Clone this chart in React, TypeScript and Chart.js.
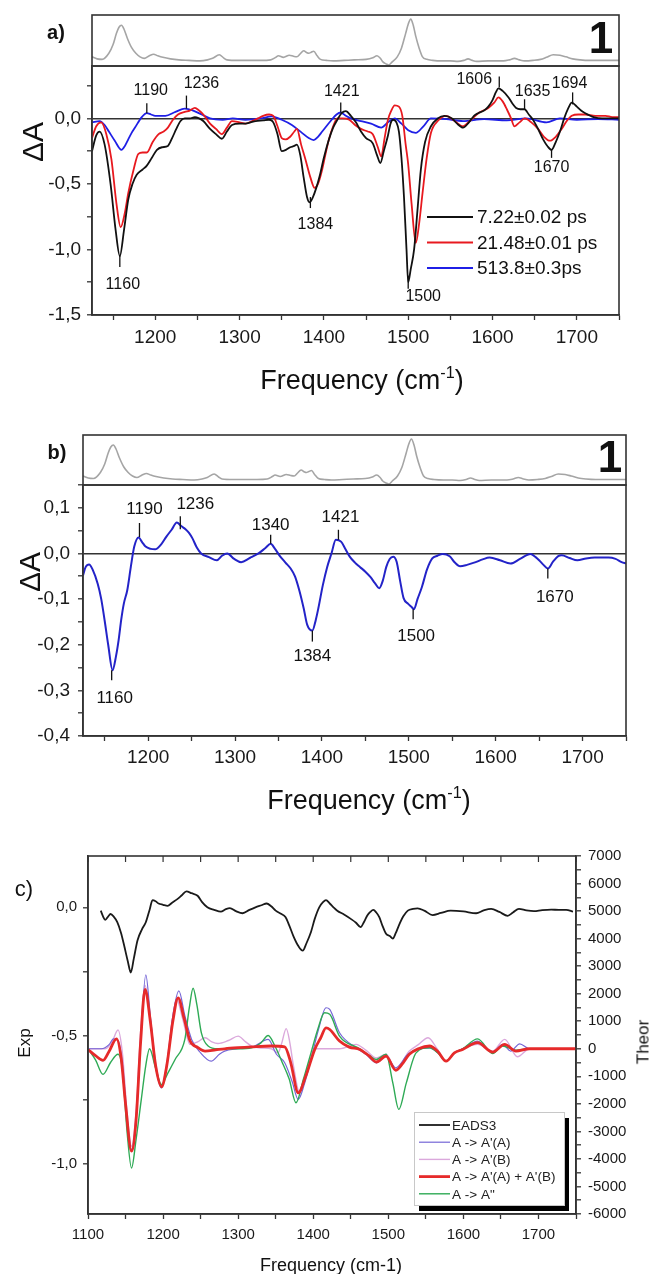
import React, { useEffect, useRef } from 'react';
import { Chart, registerables } from 'chart.js';
Chart.register(...registerables);

const FONT = "'Liberation Sans', Arial, sans-serif";

// ---------- DATA ----------
// reference (ground-state) spectrum shown in the small top boxes, arbitrary units
const refSpectrum: [number, number][] = [
  [1125,0.18],[1131,0.14],[1137,0.13],[1145,0.25],[1150,0.42],[1154,0.64],[1157,0.76],[1160,0.80],[1163,0.72],[1167,0.54],[1172,0.36],[1177,0.25],[1182,0.18],[1187,0.15],[1193,0.2],[1198,0.23],[1203,0.2],[1209,0.17],[1218,0.14],[1228,0.12],[1240,0.11],[1253,0.10],[1262,0.12],[1268,0.15],[1276,0.22],[1281,0.16],[1285,0.12],[1298,0.11],[1312,0.11],[1325,0.11],[1337,0.12],[1343,0.17],[1346,0.2],[1352,0.17],[1359,0.21],[1364,0.19],[1368,0.18],[1372,0.24],[1376,0.30],[1380,0.26],[1382,0.25],[1385,0.27],[1388,0.29],[1392,0.2],[1396,0.13],[1403,0.11],[1411,0.10],[1424,0.11],[1436,0.12],[1450,0.13],[1458,0.16],[1463,0.20],[1467,0.15],[1470,0.08],[1474,0.04],[1477,0.02],[1481,0.08],[1487,0.18],[1492,0.35],[1497,0.64],[1500,0.82],[1503,0.92],[1506,0.80],[1509,0.58],[1513,0.35],[1517,0.18],[1522,0.13],[1529,0.11],[1540,0.1],[1550,0.1],[1559,0.09],[1566,0.11],[1571,0.14],[1576,0.11],[1581,0.09],[1595,0.1],[1606,0.1],[1613,0.10],[1620,0.12],[1626,0.15],[1632,0.12],[1638,0.10],[1648,0.11],[1657,0.13],[1664,0.17],[1672,0.22],[1680,0.21],[1687,0.18],[1695,0.14],[1704,0.12],[1715,0.11],[1726,0.11],[1738,0.11],[1750,0.11]
];

// panel a: EADS (black 7.22 ps, red 21.48 ps, blue 513.8 ps)
const eadsFast: [number, number][] = [
  [1125,-0.25],[1130,-0.13],[1134,-0.10],[1140,-0.2],[1147,-0.5],[1153,-0.85],[1158,-1.05],[1163,-0.85],[1168,-0.62],[1173,-0.5],[1178,-0.43],[1185,-0.39],[1190,-0.36],[1196,-0.3],[1202,-0.24],[1208,-0.22],[1215,-0.21],[1220,-0.15],[1225,-0.08],[1230,-0.02],[1235,0.0],[1241,0.0],[1247,0.01],[1252,0.0],[1257,-0.02],[1265,-0.08],[1272,-0.12],[1279,-0.155],[1285,-0.1],[1291,-0.05],[1300,-0.04],[1307,-0.04],[1313,-0.03],[1319,-0.02],[1328,-0.015],[1335,-0.01],[1340,-0.03],[1345,-0.12],[1350,-0.25],[1355,-0.24],[1360,-0.22],[1365,-0.21],[1368,-0.2],[1372,-0.28],[1376,-0.45],[1380,-0.6],[1383,-0.64],[1387,-0.6],[1391,-0.53],[1395,-0.44],[1400,-0.3],[1406,-0.16],[1411,-0.07],[1416,-0.01],[1421,0.04],[1426,0.055],[1432,0.02],[1438,-0.03],[1444,-0.1],[1450,-0.15],[1458,-0.19],[1463,-0.28],[1467,-0.34],[1471,-0.25],[1476,-0.13],[1479,-0.04],[1482,-0.01],[1486,-0.03],[1489,-0.1],[1492,-0.3],[1495,-0.6],[1498,-1.0],[1500,-1.25],[1503,-1.15],[1507,-1.0],[1511,-0.7],[1515,-0.39],[1520,-0.18],[1527,-0.06],[1535,0.0],[1543,0.02],[1552,0.0],[1558,-0.04],[1565,-0.07],[1572,-0.03],[1578,0.02],[1583,0.04],[1590,0.06],[1595,0.09],[1600,0.14],[1604,0.2],[1607,0.23],[1612,0.21],[1619,0.16],[1624,0.11],[1628,0.08],[1633,0.07],[1638,0.07],[1643,0.03],[1648,-0.01],[1654,-0.08],[1660,-0.16],[1665,-0.21],[1670,-0.24],[1675,-0.18],[1680,-0.1],[1685,0.0],[1690,0.08],[1694,0.12],[1700,0.09],[1705,0.06],[1710,0.04],[1720,0.01],[1730,0.0],[1740,0.0],[1750,0.0]
];
const eadsMid: [number, number][] = [
  [1125,-0.15],[1130,-0.06],[1136,-0.03],[1142,-0.12],[1148,-0.31],[1154,-0.65],[1159,-0.83],[1164,-0.72],[1168,-0.57],[1174,-0.4],[1180,-0.27],[1185,-0.26],[1190,-0.26],[1197,-0.18],[1204,-0.12],[1210,-0.1],[1215,-0.07],[1221,-0.01],[1227,0.03],[1235,0.05],[1241,0.06],[1247,0.08],[1252,0.06],[1257,0.03],[1265,-0.04],[1272,-0.08],[1279,-0.12],[1285,-0.07],[1291,-0.02],[1300,-0.03],[1307,-0.04],[1315,-0.02],[1322,0.0],[1328,0.02],[1335,0.03],[1340,0.02],[1345,-0.06],[1350,-0.15],[1355,-0.16],[1360,-0.14],[1365,-0.1],[1368,-0.08],[1373,-0.2],[1378,-0.31],[1384,-0.45],[1389,-0.53],[1393,-0.5],[1398,-0.39],[1402,-0.27],[1406,-0.16],[1411,-0.06],[1416,0.0],[1422,0.0],[1430,-0.01],[1437,-0.05],[1444,-0.08],[1452,-0.1],[1458,-0.12],[1464,-0.22],[1468,-0.29],[1472,-0.15],[1476,-0.01],[1480,0.06],[1484,0.1],[1489,0.09],[1493,0.02],[1497,-0.2],[1500,-0.35],[1504,-0.65],[1509,-0.95],[1513,-0.8],[1517,-0.57],[1522,-0.3],[1527,-0.11],[1535,-0.02],[1545,0.02],[1555,-0.02],[1565,-0.06],[1573,-0.02],[1583,0.04],[1595,0.08],[1602,0.12],[1607,0.16],[1612,0.13],[1617,0.07],[1622,0.0],[1626,-0.06],[1632,-0.03],[1638,0.0],[1646,-0.03],[1654,-0.08],[1661,-0.14],[1668,-0.17],[1675,-0.14],[1682,-0.08],[1688,-0.02],[1694,0.02],[1702,0.03],[1710,0.03],[1722,0.02],[1734,0.02],[1742,0.01],[1750,0.01]
];
const eadsSlow: [number, number][] = [
  [1125,-0.03],[1134,-0.02],[1140,-0.05],[1145,-0.1],[1152,-0.17],[1160,-0.24],[1164,-0.21],[1168,-0.16],[1172,-0.11],[1176,-0.07],[1184,0.01],[1190,0.04],[1195,0.03],[1200,0.02],[1212,0.02],[1224,0.05],[1235,0.075],[1245,0.06],[1255,0.03],[1265,0.0],[1280,-0.01],[1292,0.0],[1307,-0.01],[1325,0.0],[1338,0.015],[1350,-0.01],[1362,-0.05],[1374,-0.11],[1382,-0.15],[1388,-0.165],[1393,-0.14],[1398,-0.1],[1408,-0.02],[1415,0.03],[1420,0.045],[1426,0.02],[1432,0.0],[1444,-0.02],[1456,-0.04],[1468,-0.07],[1476,-0.03],[1484,0.0],[1492,-0.04],[1500,-0.09],[1509,-0.11],[1518,-0.06],[1527,0.0],[1545,-0.005],[1565,-0.02],[1590,-0.005],[1617,-0.015],[1640,0.0],[1664,-0.03],[1680,0.0],[1700,-0.01],[1725,-0.005],[1750,-0.01]
];

// panel b: long-lived EADS
const eadsB: [number, number][] = [
  [1125,-0.048],[1128,-0.03],[1132,-0.024],[1136,-0.035],[1142,-0.067],[1146,-0.1],[1150,-0.148],[1154,-0.2],[1159,-0.256],[1163,-0.225],[1166,-0.19],[1169,-0.145],[1172,-0.11],[1176,-0.08],[1180,-0.03],[1184,0.015],[1189,0.035],[1193,0.025],[1197,0.015],[1203,0.01],[1208,0.009],[1215,0.02],[1221,0.037],[1227,0.052],[1233,0.068],[1238,0.06],[1243,0.053],[1247,0.045],[1251,0.033],[1256,0.013],[1261,0.0],[1270,-0.008],[1279,-0.015],[1285,-0.005],[1291,0.0],[1299,-0.012],[1307,-0.019],[1317,-0.01],[1327,0.0],[1335,0.012],[1341,0.021],[1346,0.01],[1351,-0.004],[1358,-0.02],[1364,-0.033],[1369,-0.05],[1374,-0.081],[1379,-0.12],[1383,-0.156],[1389,-0.169],[1393,-0.145],[1396,-0.119],[1401,-0.07],[1406,-0.03],[1411,0.0],[1416,0.03],[1422,0.026],[1427,0.01],[1432,-0.007],[1438,-0.02],[1444,-0.03],[1450,-0.04],[1456,-0.052],[1461,-0.065],[1466,-0.076],[1470,-0.06],[1474,-0.03],[1478,-0.012],[1482,-0.007],[1486,-0.018],[1490,-0.06],[1494,-0.098],[1499,-0.11],[1503,-0.117],[1506,-0.122],[1510,-0.1],[1515,-0.074],[1521,-0.035],[1527,-0.011],[1533,-0.005],[1539,-0.001],[1547,-0.006],[1553,-0.02],[1559,-0.028],[1567,-0.025],[1577,-0.019],[1585,-0.013],[1593,-0.009],[1605,-0.015],[1617,-0.022],[1628,-0.012],[1640,-0.001],[1646,-0.008],[1650,-0.015],[1655,-0.025],[1660,-0.033],[1666,-0.018],[1672,-0.006],[1676,-0.004],[1685,-0.01],[1694,-0.015],[1704,-0.011],[1714,-0.009],[1722,-0.009],[1730,-0.009],[1738,-0.012],[1745,-0.019],[1750,-0.022]
];

// panel c: experimental EADS3 (left axis) and theoretical difference spectra (right axis)
const eads3Exp: [number, number][] = [
  [1117,-0.013],[1120,-0.035],[1123,-0.049],[1127,-0.035],[1130,-0.026],[1134,-0.035],[1139,-0.058],[1144,-0.1],[1148,-0.147],[1153,-0.21],[1157,-0.254],[1161,-0.2],[1166,-0.128],[1172,-0.085],[1177,-0.058],[1182,-0.01],[1186,0.028],[1190,0.024],[1194,0.015],[1200,0.01],[1206,0.006],[1212,0.018],[1219,0.032],[1225,0.047],[1231,0.062],[1238,0.055],[1246,0.045],[1252,0.02],[1259,0.0],[1268,-0.01],[1277,-0.017],[1283,-0.008],[1289,-0.003],[1297,-0.015],[1306,-0.023],[1315,-0.01],[1323,0.0],[1331,0.008],[1338,0.015],[1344,0.004],[1350,-0.013],[1357,-0.025],[1363,-0.038],[1368,-0.07],[1374,-0.115],[1380,-0.15],[1386,-0.169],[1391,-0.14],[1397,-0.096],[1402,-0.045],[1408,0.0],[1413,0.02],[1417,0.028],[1422,0.015],[1427,0.0],[1432,-0.013],[1441,-0.028],[1450,-0.045],[1457,-0.06],[1463,-0.077],[1468,-0.055],[1472,-0.032],[1476,-0.018],[1480,-0.01],[1484,-0.02],[1488,-0.038],[1492,-0.07],[1497,-0.103],[1502,-0.112],[1506,-0.122],[1510,-0.1],[1514,-0.071],[1520,-0.035],[1526,-0.013],[1533,-0.006],[1539,-0.004],[1548,-0.013],[1559,-0.03],[1570,-0.022],[1583,-0.013],[1600,-0.016],[1617,-0.023],[1627,-0.012],[1637,-0.006],[1648,-0.018],[1659,-0.033],[1666,-0.02],[1674,-0.006],[1684,-0.012],[1694,-0.015],[1705,-0.011],[1717,-0.009],[1727,-0.01],[1737,-0.01],[1746,-0.017]
];
const theorAA: [number, number][] = [
  [1100,0],[1118,0],[1128,150],[1134,360],[1140,300],[1146,-600],[1152,-2500],[1158,-3660],[1164,-2500],[1170,300],[1177,2680],[1183,1200],[1190,-600],[1198,-1420],[1205,-600],[1213,1200],[1221,2100],[1229,1200],[1238,340],[1250,-150],[1264,-450],[1275,-200],[1282,-85],[1300,0],[1320,80],[1340,340],[1351,-200],[1362,-510],[1372,-1200],[1380,-1840],[1388,-1300],[1397,-390],[1407,700],[1417,1490],[1422,1430],[1435,580],[1457,36],[1470,-200],[1484,-510],[1497,-270],[1510,-690],[1526,-200],[1541,0],[1555,36],[1566,-150],[1577,-450],[1588,-150],[1599,0],[1619,280],[1639,-150],[1652,160],[1663,-85],[1675,180],[1688,0],[1750,0]
];
const theorAB: [number, number][] = [
  [1100,0],[1123,0],[1132,250],[1140,680],[1146,-200],[1152,-2300],[1158,-3540],[1164,-2300],[1170,600],[1176,2300],[1183,1100],[1190,-500],[1198,-1360],[1205,-500],[1212,1000],[1218,1800],[1226,1100],[1236,160],[1246,250],[1256,400],[1265,250],[1273,190],[1287,300],[1300,460],[1310,250],[1318,100],[1330,30],[1344,0],[1353,-150],[1358,200],[1364,730],[1369,200],[1373,-510],[1382,-1600],[1392,-700],[1402,0],[1435,0],[1457,160],[1470,-50],[1484,-330],[1497,-200],[1510,-750],[1528,-85],[1540,150],[1553,400],[1565,0],[1577,-450],[1588,-150],[1599,0],[1619,160],[1639,-85],[1655,340],[1672,-290],[1688,0],[1750,0]
];
const theorSum: [number, number][] = [
  [1100,-25],[1110,-250],[1120,-420],[1128,-100],[1138,360],[1144,-300],[1150,-2000],[1158,-3720],[1164,-2600],[1170,200],[1176,2160],[1183,1000],[1190,-600],[1198,-1380],[1205,-600],[1213,1000],[1220,1850],[1228,1100],[1236,280],[1246,50],[1256,-85],[1270,-40],[1282,0],[1300,40],[1318,70],[1344,100],[1362,70],[1370,-500],[1380,-1600],[1390,-1000],[1402,-25],[1410,400],[1417,760],[1422,700],[1435,280],[1448,60],[1462,-25],[1474,-250],[1484,-480],[1497,-270],[1510,-780],[1520,-500],[1528,-200],[1540,0],[1555,100],[1566,-100],[1577,-450],[1588,-150],[1599,-25],[1619,220],[1639,-120],[1655,160],[1670,-85],[1688,0],[1750,0]
];
const theorA2: [number, number][] = [
  [1100,0],[1110,-400],[1120,-930],[1130,-500],[1140,-200],[1146,-800],[1152,-3000],[1158,-4330],[1164,-3300],[1171,-1840],[1177,-600],[1182,0],[1190,-700],[1198,-1300],[1206,-900],[1216,-390],[1229,340],[1235,1500],[1240,2200],[1245,1600],[1251,580],[1260,100],[1273,0],[1300,0],[1318,36],[1330,200],[1340,480],[1349,100],[1358,-450],[1368,-1100],[1377,-1960],[1387,-1100],[1397,-150],[1406,700],[1415,1310],[1422,1250],[1435,460],[1462,0],[1475,-250],[1484,-390],[1497,-200],[1506,-1240],[1514,-2200],[1524,-1240],[1537,-150],[1555,36],[1566,-150],[1577,-450],[1588,-150],[1599,0],[1619,360],[1639,-170],[1652,100],[1670,-50],[1688,0],[1750,0]
];

const legendA = ['7.22\u00B10.02 ps', '21.48\u00B10.01 ps', '513.8\u00B10.3ps'];
const legendC = ['EADS3', "A -> A'(A)", "A -> A'(B)", "A -> A'(A) + A'(B)", 'A -> A"'];

// peak annotations: [frequency, value where the marker starts, label]
const peaksA: [number, number, string][] = [
  [1158, -1.05, '1160'], [1190, 0.04, '1190'], [1237, 0.075, '1236'], [1384, -0.6, '1384'],
  [1420, 0.045, '1421'], [1500, -1.2, '1500'], [1608, 0.236, '1606'], [1638, 0.07, '1635'],
  [1695, 0.107, '1694'], [1670, -0.24, '1670']
];
const peaksB: [number, number, string][] = [
  [1158, -0.256, '1160'], [1190, 0.036, '1190'], [1237, 0.053, '1236'], [1341, 0.021, '1340'],
  [1419, 0.03, '1421'], [1389, -0.169, '1384'], [1505, -0.122, '1500'], [1660, -0.033, '1670']
];

// ---------- styling for annotations (direction, tick length, text gap, text x-shift) ----------
type PStyle = { dir: 'up' | 'down'; len: number; gap: number; dx: number };
const peakStyleA: PStyle[] = [
  { dir: 'down', len: 11, gap: 18, dx: 3 }, { dir: 'up', len: 10, gap: 13, dx: 4 },
  { dir: 'up', len: 13, gap: 12, dx: 15 }, { dir: 'down', len: 11, gap: 17, dx: 5 },
  { dir: 'up', len: 10, gap: 11, dx: 1 }, { dir: 'down', len: 13, gap: 8, dx: 15 },
  { dir: 'up', len: 11, gap: -3, dx: -25 }, { dir: 'up', len: 10, gap: 8, dx: 8 },
  { dir: 'up', len: 12, gap: 9, dx: -3 }, { dir: 'down', len: 8, gap: 10, dx: 0 }
];
const peakStyleB: PStyle[] = [
  { dir: 'down', len: 10, gap: 18, dx: 3 }, { dir: 'up', len: 14, gap: 14, dx: 5 },
  { dir: 'up', len: 13, gap: 12, dx: 15 }, { dir: 'up', len: 9, gap: 10, dx: 0 },
  { dir: 'up', len: 10, gap: 12, dx: 2 }, { dir: 'down', len: 11, gap: 15, dx: 0 },
  { dir: 'down', len: 10, gap: 17, dx: 3 }, { dir: 'down', len: 10, gap: 19, dx: 7 }
];

// ---------- helpers ----------
const fmtComma = (v: number) => {
  const r = Math.round(v * 10) / 10;
  return (r === 0 ? 0 : r).toFixed(1).replace('.', ',');
};
const isMult = (v: number, m: number) => {
  const q = v / m;
  return Math.abs(q - Math.round(q)) < 1e-6;
};
const pts = (arr: [number, number][]) => arr.map(([x, y]) => ({ x, y }));
const lineDs = (arr: [number, number][], color: string, width: number, extra: any = {}) => ({
  data: pts(arr), borderColor: color, backgroundColor: color, borderWidth: width,
  pointRadius: 0, fill: false, cubicInterpolationMode: 'monotone', ...extra
});
const zeroPad = (s: any) => {
  s.paddingTop = 0; s.paddingBottom = 0; s.paddingLeft = 0; s.paddingRight = 0;
};

const framePlugin = {
  id: 'frame',
  afterDatasetsDraw(chart: any) {
    const { ctx, chartArea: a } = chart;
    ctx.save();
    ctx.strokeStyle = '#333';
    ctx.lineWidth = 1.6;
    ctx.strokeRect(a.left, a.top, a.right - a.left, a.bottom - a.top);
    ctx.restore();
  }
};

const topTicksPlugin = {
  id: 'topTicks',
  afterDraw(chart: any) {
    const { ctx, chartArea: a, scales } = chart;
    const x = scales.x;
    ctx.save();
    ctx.strokeStyle = '#333';
    ctx.lineWidth = 1.2;
    x.ticks.forEach((t: any) => {
      const px = x.getPixelForValue(t.value);
      ctx.beginPath();
      ctx.moveTo(px, a.top);
      ctx.lineTo(px, a.top + 6);
      ctx.stroke();
    });
    ctx.restore();
  }
};

const makePeaksPlugin = (items: [number, number, string][], styles: PStyle[], fontSize: number) => ({
  id: 'peaks',
  afterDatasetsDraw(chart: any) {
    const { ctx, scales } = chart;
    const x = scales.x, y = scales.y;
    ctx.save();
    ctx.strokeStyle = '#111';
    ctx.fillStyle = '#111';
    ctx.lineWidth = 1.3;
    ctx.font = `${fontSize}px ${FONT}`;
    ctx.textAlign = 'center';
    ctx.textBaseline = 'middle';
    items.forEach(([f, v, label], i) => {
      const st = styles[i];
      const px = x.getPixelForValue(f);
      const py = y.getPixelForValue(v);
      const s = st.dir === 'up' ? -1 : 1;
      const ey = py + s * st.len;
      ctx.beginPath();
      ctx.moveTo(px, py);
      ctx.lineTo(px, ey);
      ctx.stroke();
      ctx.fillText(label, px + st.dx, ey + s * st.gap);
    });
    ctx.restore();
  }
});

const makeLegendA = () => ({
  id: 'legendA',
  afterDraw(chart: any) {
    const { ctx } = chart;
    const ds = chart.data.datasets;
    ctx.save();
    ctx.font = `19px ${FONT}`;
    ctx.textBaseline = 'middle';
    ctx.textAlign = 'left';
    ds.forEach((d: any, i: number) => {
      const y = 157 + i * 25.5;
      ctx.strokeStyle = d.borderColor;
      ctx.lineWidth = 2;
      ctx.beginPath();
      ctx.moveTo(427, y);
      ctx.lineTo(473, y);
      ctx.stroke();
      ctx.fillStyle = '#111';
      ctx.fillText(legendA[i], 477, y + 1);
    });
    ctx.restore();
  }
});

const makeLegendC = () => ({
  id: 'legendC',
  afterDraw(chart: any) {
    const { ctx } = chart;
    const ds = chart.data.datasets;
    const bx = 414, by = 272, bw = 150, bh = 93;
    ctx.save();
    ctx.fillStyle = '#000';
    ctx.fillRect(bx + 5, by + 6, bw, bh);
    ctx.fillStyle = '#fff';
    ctx.fillRect(bx, by, bw, bh);
    ctx.strokeStyle = '#c8c8c8';
    ctx.lineWidth = 1;
    ctx.strokeRect(bx + 0.5, by + 0.5, bw, bh);
    ctx.font = `13.5px ${FONT}`;
    ctx.textBaseline = 'middle';
    ctx.textAlign = 'left';
    legendC.forEach((label, i) => {
      const d = ds.find((q: any) => q.label === label);
      const y = by + 13 + i * 17.2;
      ctx.strokeStyle = d.borderColor;
      ctx.lineWidth = d.borderWidth;
      ctx.beginPath();
      ctx.moveTo(bx + 5, y);
      ctx.lineTo(bx + 36, y);
      ctx.stroke();
      ctx.fillStyle = '#222';
      ctx.fillText(label, bx + 38, y + 1);
    });
    ctx.restore();
  }
});

const baseOpts = (padding: any) => ({
  responsive: false,
  maintainAspectRatio: false,
  animation: false,
  devicePixelRatio: 1,
  events: [],
  layout: { padding },
  plugins: { legend: { display: false }, tooltip: { enabled: false }, title: { display: false } }
});

const tickFont = (size: number) => ({ family: FONT, size });

const freqAxis = (min: number, max: number, height: number, size: number, pad: number) => ({
  type: 'linear',
  position: 'bottom',
  min, max,
  afterFit: (s: any) => { s.height = height; zeroPad(s); },
  ticks: {
    stepSize: 50, autoSkip: false, includeBounds: false, maxRotation: 0, minRotation: 0,
    maxTicksLimit: 1000, padding: pad, font: tickFont(size), color: '#1a1a1a',
    callback: (v: any) => (isMult(v, 100) ? String(Math.round(v)) : '')
  },
  grid: { drawOnChartArea: false, drawTicks: true, tickLength: 5, tickColor: '#333', tickWidth: 1.3 },
  border: { display: true, color: '#333', width: 1.6 }
});

const valueAxis = (min: number, max: number, step: number, major: number, width: number,
  size: number, pad: number, zeroLine: boolean, position = 'left', fmt = fmtComma) => ({
  type: 'linear',
  position,
  min, max,
  afterFit: (s: any) => { s.width = width; zeroPad(s); },
  ticks: {
    stepSize: step, autoSkip: false, includeBounds: false, maxTicksLimit: 1000,
    padding: pad, font: tickFont(size), color: '#1a1a1a',
    callback: (v: any) => (isMult(v, major) ? fmt(v) : '')
  },
  grid: {
    drawOnChartArea: zeroLine,
    color: (c: any) => (zeroLine && c.tick && Math.abs(c.tick.value) < 1e-9 ? '#333' : 'rgba(0,0,0,0)'),
    lineWidth: 1.6,
    drawTicks: true, tickLength: 5, tickColor: '#333', tickWidth: 1.3
  },
  border: { display: true, color: '#333', width: 1.6 }
});

const refChartConfig = (padding: any) => ({
  type: 'line',
  data: { datasets: [lineDs(refSpectrum, '#a5a5a5', 1.6)] },
  options: {
    ...baseOpts(padding),
    scales: {
      x: { type: 'linear', display: false, min: 1125, max: 1750 },
      y: { display: false, min: 0, max: 1 }
    }
  },
  plugins: [framePlugin]
});

const Txt = ({ x, y, size, bold, rot, family, children }: any) => (
  <div
    style={{
      position: 'absolute', left: x, top: y,
      transform: `translate(-50%, -50%)${rot ? ` rotate(${rot}deg)` : ''}`,
      fontFamily: family || FONT, fontSize: size, fontWeight: bold ? 'bold' : 'normal',
      whiteSpace: 'nowrap', lineHeight: 1, color: '#111'
    }}
  >
    {children}
  </div>
);

const Sup = ({ children }: any) => (
  <span style={{ fontSize: '0.6em', position: 'relative', top: '-0.7em' }}>{children}</span>
);

export default function App() {
  const refA = useRef<HTMLCanvasElement>(null);
  const mainA = useRef<HTMLCanvasElement>(null);
  const refB = useRef<HTMLCanvasElement>(null);
  const mainB = useRef<HTMLCanvasElement>(null);
  const mainC = useRef<HTMLCanvasElement>(null);

  useEffect(() => {
    const charts: Chart[] = [];
    charts.push(new Chart(refA.current as any, refChartConfig({ left: 92, right: 33, top: 15, bottom: 4 }) as any));
    charts.push(new Chart(refB.current as any, refChartConfig({ left: 83, right: 26, top: 15, bottom: 5 }) as any));

    charts.push(new Chart(mainA.current as any, {
      type: 'line',
      data: {
        datasets: [
          lineDs(eadsFast, '#111111', 1.8, { label: legendA[0] }),
          lineDs(eadsMid, '#e8191f', 1.8, { label: legendA[1] }),
          lineDs(eadsSlow, '#1f1fe6', 1.8, { label: legendA[2] })
        ]
      },
      options: {
        ...baseOpts({ left: 0, right: 33, top: 6, bottom: 0 }),
        scales: {
          x: freqAxis(1125, 1750, 85, 19, 6),
          y: valueAxis(-1.5, 0.4, 0.25, 0.5, 92, 19, 6, true)
        }
      },
      plugins: [framePlugin, makePeaksPlugin(peaksA, peakStyleA, 16), makeLegendA()]
    } as any));

    charts.push(new Chart(mainB.current as any, {
      type: 'line',
      data: { datasets: [lineDs(eadsB, '#2323c8', 2, { label: '513.8 ps' })] },
      options: {
        ...baseOpts({ left: 0, right: 26, top: 5, bottom: 0 }),
        scales: {
          x: freqAxis(1125, 1750, 84, 19, 5),
          y: valueAxis(-0.4, 0.15, 0.05, 0.1, 83, 19, 8, true)
        }
      },
      plugins: [framePlugin, makePeaksPlugin(peaksB, peakStyleB, 17)]
    } as any));

    charts.push(new Chart(mainC.current as any, {
      type: 'line',
      data: {
        datasets: [
          lineDs(theorSum, '#e62a2a', 2.8, { label: legendC[3], yAxisID: 'yR', order: 0 }),
          lineDs(eads3Exp, '#1a1a1a', 1.8, { label: legendC[0], yAxisID: 'yL', order: 1 }),
          lineDs(theorAA, '#7566d6', 1.2, { label: legendC[1], yAxisID: 'yR', order: 3 }),
          lineDs(theorAB, '#dba8dc', 1.4, { label: legendC[2], yAxisID: 'yR', order: 4 }),
          lineDs(theorA2, '#2eaa55', 1.4, { label: legendC[4], yAxisID: 'yR', order: 2 })
        ]
      },
      options: {
        ...baseOpts({ left: 0, right: 0, top: 16, bottom: 0 }),
        scales: {
          x: freqAxis(1100, 1750, 60, 15, 7),
          yL: valueAxis(-1.195, 0.2, 0.25, 0.5, 88, 15, 6, false, 'left'),
          yR: valueAxis(-6000, 7000, 500, 1000, 76, 15, 7, false, 'right', (v: number) => String(Math.round(v)))
        }
      },
      plugins: [framePlugin, topTicksPlugin, makeLegendC()]
    } as any));

    return () => charts.forEach((c) => c.destroy());
  }, []);

  const cv = (top: number, h: number) => ({
    position: 'absolute' as const, left: 0, top, width: 652, height: h, display: 'block'
  });

  return (
    <div style={{ position: 'absolute', left: 0, top: 0, width: 652, height: 1274, overflow: 'hidden', background: '#fff' }}>
      <canvas ref={refA} width={652} height={70} style={cv(0, 70)} />
      <canvas ref={mainA} width={652} height={340} style={cv(60, 340)} />
      <canvas ref={refB} width={652} height={70} style={cv(420, 70)} />
      <canvas ref={mainB} width={652} height={340} style={cv(480, 340)} />
      <canvas ref={mainC} width={652} height={434} style={cv(840, 434)} />

      <Txt x={56} y={32} size={20} bold>a)</Txt>
      <Txt x={601} y={38} size={44} bold>1</Txt>
      <Txt x={33} y={142} size={30} rot={-90}>ΔA</Txt>
      <Txt x={362} y={380} size={27}>Frequency (cm<Sup>-1</Sup>)</Txt>

      <Txt x={57} y={452} size={20} bold>b)</Txt>
      <Txt x={610} y={457} size={44} bold>1</Txt>
      <Txt x={30} y={572} size={30} rot={-90}>ΔA</Txt>
      <Txt x={369} y={800} size={27}>Frequency (cm<Sup>-1</Sup>)</Txt>

      <Txt x={24} y={889} size={22}>c)</Txt>
      <Txt x={24} y={1043} size={17} rot={-90}>Exp</Txt>
      <Txt x={643} y={1042} size={17} rot={-90}>Theor</Txt>
      <Txt x={331} y={1265} size={18}>Frequency (cm-1)</Txt>
    </div>
  );
}
